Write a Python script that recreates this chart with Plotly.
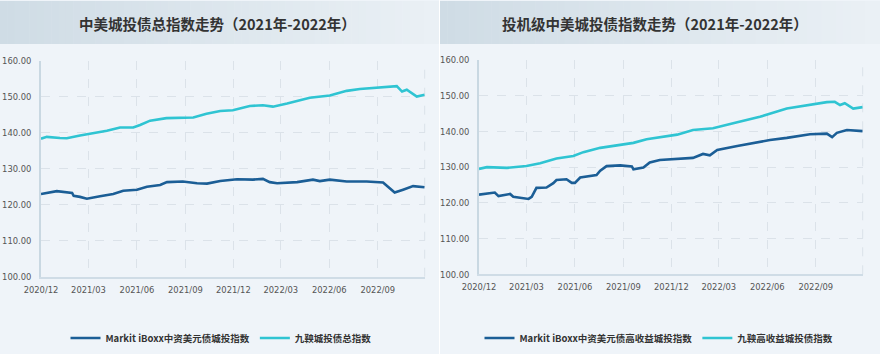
import plotly.graph_objects as go

# ---------------- data ----------------
left_dark_dates = ["2020-12-01", "2020-12-24", "2020-12-31", "2021-01-29", "2021-02-01", "2021-02-13",
                   "2021-02-26", "2021-03-23", "2021-04-17", "2021-05-06", "2021-06-01", "2021-06-20",
                   "2021-07-15", "2021-07-28", "2021-08-27", "2021-09-23", "2021-10-12", "2021-11-06",
                   "2021-12-08", "2022-01-07", "2022-01-26", "2022-02-08", "2022-02-22", "2022-04-01",
                   "2022-05-01", "2022-05-14", "2022-06-02", "2022-07-04", "2022-08-11", "2022-09-11",
                   "2022-09-20", "2022-10-03", "2022-10-19", "2022-11-07", "2022-11-29"]
left_dark_vals = [123.0, 123.5, 123.8, 123.3, 122.5, 122.2,
                  121.7, 122.4, 123.0, 123.9, 124.2, 125.0,
                  125.5, 126.3, 126.5, 126.0, 125.9, 126.6,
                  127.1, 127.0, 127.2, 126.3, 126.0, 126.3,
                  127.0, 126.6, 127.0, 126.5, 126.5, 126.2,
                  125.0, 123.4, 124.2, 125.2, 124.9]

left_cyan_dates = ["2020-12-01", "2020-12-12", "2021-01-06", "2021-01-19", "2021-02-13", "2021-03-10",
                   "2021-04-05", "2021-04-30", "2021-05-25", "2021-06-07", "2021-06-26", "2021-07-27",
                   "2021-08-28", "2021-09-16", "2021-10-11", "2021-11-06", "2021-11-30", "2022-01-01",
                   "2022-01-26", "2022-02-14", "2022-03-13", "2022-04-06", "2022-04-25", "2022-06-02",
                   "2022-07-04", "2022-07-29", "2022-08-23", "2022-09-18", "2022-10-07", "2022-10-17",
                   "2022-10-26", "2022-11-14", "2022-11-29"]
left_cyan_vals = [138.4, 138.9, 138.6, 138.5, 139.3, 139.9,
                  140.6, 141.5, 141.5, 142.2, 143.4, 144.1,
                  144.2, 144.3, 145.3, 146.1, 146.3, 147.5,
                  147.7, 147.3, 148.2, 149.0, 149.8, 150.4,
                  151.7, 152.2, 152.5, 152.9, 153.0, 151.5,
                  152.0, 150.1, 150.6]

right_dark_dates = ["2020-12-01", "2020-12-31", "2021-01-07", "2021-01-29", "2021-02-04", "2021-02-23",
                    "2021-03-05", "2021-03-11", "2021-03-20", "2021-04-08", "2021-04-21", "2021-04-27",
                    "2021-05-16", "2021-05-26", "2021-06-01", "2021-06-11", "2021-07-12", "2021-07-19",
                    "2021-07-31", "2021-08-26", "2021-09-17", "2021-09-20", "2021-10-09", "2021-10-21",
                    "2021-11-09", "2022-01-11", "2022-01-30", "2022-02-12", "2022-02-26", "2022-04-05",
                    "2022-05-05", "2022-06-06", "2022-07-08", "2022-07-27", "2022-08-21", "2022-09-22",
                    "2022-10-02", "2022-10-11", "2022-10-30", "2022-11-29"]
right_dark_vals = [122.3, 122.9, 121.9, 122.5, 121.7, 121.4,
                   121.1, 121.7, 124.2, 124.3, 125.5, 126.4,
                   126.6, 125.6, 125.6, 127.1, 127.8, 129.0,
                   130.3, 130.5, 130.2, 129.4, 129.9, 131.3,
                   132.0, 132.6, 133.7, 133.3, 134.8, 135.9,
                   136.8, 137.6, 138.2, 138.7, 139.2, 139.4,
                   138.4, 139.6, 140.4, 140.1]

right_cyan_dates = ["2020-12-01", "2020-12-16", "2021-01-23", "2021-03-01", "2021-03-27", "2021-04-27",
                    "2021-05-29", "2021-06-17", "2021-07-19", "2021-08-19", "2021-09-20", "2021-10-15",
                    "2021-11-09", "2021-12-12", "2022-01-11", "2022-02-18", "2022-04-05", "2022-05-18",
                    "2022-07-08", "2022-08-15", "2022-09-22", "2022-10-07", "2022-10-17", "2022-10-26",
                    "2022-11-11", "2022-11-29"]
right_cyan_vals = [129.5, 130.0, 129.8, 130.3, 131.1, 132.4,
                   133.1, 134.2, 135.4, 136.0, 136.8, 137.8,
                   138.3, 139.1, 140.4, 140.9, 142.6, 144.1,
                   146.4, 147.2, 148.2, 148.3, 147.4, 147.9,
                   146.4, 146.8]

titles = ["中美城投债总指数走势（2021年-2022年）", "投机级中美城投债指数走势（2021年-2022年）"]
left_names = ["Markit iBoxx中资美元债城投指数", "九鞅城投债总指数"]
right_names = ["Markit iBoxx中资美元债高收益城投指数", "九鞅高收益城投债指数"]
x_range = ["2020-12-01", "2022-11-29"]
y_range = [100, 160]

# ---------------- styling ----------------
W, H = 880, 354
DARK = "#1b5e96"
CYAN = "#2fc4d2"
PANEL_BG = "#eff4f9"
TICK_FONT = dict(family="Liberation Sans Narrow, DejaVu Sans Condensed, Roboto, sans-serif",
                 size=9.3, color="#555555")
CJK = "Noto Sans CJK SC, Noto Sans, sans-serif"


def px_x(p):
    return p / W


def px_y(p):
    return 1 - p / H


fig = go.Figure()

fig.add_trace(go.Scatter(x=left_dark_dates, y=left_dark_vals, mode="lines", name=left_names[0],
                         line=dict(color=DARK, width=2.6), xaxis="x", yaxis="y", legend="legend"))
fig.add_trace(go.Scatter(x=left_cyan_dates, y=left_cyan_vals, mode="lines", name=left_names[1],
                         line=dict(color=CYAN, width=2.6), xaxis="x", yaxis="y", legend="legend"))
fig.add_trace(go.Scatter(x=right_dark_dates, y=right_dark_vals, mode="lines", name=right_names[0],
                         line=dict(color=DARK, width=2.6), xaxis="x2", yaxis="y2", legend="legend2"))
fig.add_trace(go.Scatter(x=right_cyan_dates, y=right_cyan_vals, mode="lines", name=right_names[1],
                         line=dict(color=CYAN, width=2.6), xaxis="x2", yaxis="y2", legend="legend2"))

# panel geometry (pixels)
panels = [
    dict(x0=0, x1=439, ax_l=41, ax_r=424.7, ax_t=61, ax_b=276.7, title_cx=217, leg_cx=221),
    dict(x0=440, x1=880, ax_l=479, ax_r=862.7, ax_t=60, ax_b=274.3, title_cx=655, leg_cx=659),
]

xaxis_common = dict(type="date", range=x_range, tick0="2020-12-01", dtick="M3", tickformat="%Y/%m",
                    showgrid=True, gridcolor="#dbe2e9", griddash="dash", gridwidth=1,
                    showline=True, linecolor="#cfdce6", linewidth=2, ticks="", tickfont=TICK_FONT,
                    zeroline=False, fixedrange=True, automargin=False, ticklabelstandoff=3)
yaxis_common = dict(range=y_range, dtick=10, tickformat=".2f", showgrid=True, gridcolor="#dbe2e9",
                    griddash="dash", gridwidth=1, showline=True, linecolor="#c9d8e2", linewidth=1.5,
                    ticks="", tickfont=TICK_FONT, zeroline=False, ticklabelstandoff=6, fixedrange=True,
                    automargin=False)

shapes = []
annotations = []
for i, p in enumerate(panels):
    # panel background
    shapes.append(dict(type="rect", xref="paper", yref="paper", x0=px_x(p["x0"]), x1=px_x(p["x1"]),
                       y0=0, y1=1, fillcolor=PANEL_BG, line=dict(width=0), layer="below"))
    # title bar gradient made of thin strips
    n = 60
    c0 = (0xcf, 0xdc, 0xe5)
    c1 = (0xea, 0xf0, 0xf5)
    width = p["x1"] - p["x0"]
    for k in range(n):
        t = k / (n - 1)
        col = "rgb(%d,%d,%d)" % tuple(round(a + (b - a) * t) for a, b in zip(c0, c1))
        shapes.append(dict(type="rect", xref="paper", yref="paper",
                           x0=px_x(p["x0"] + width * k / n), x1=px_x(p["x0"] + width * (k + 1) / n + 0.5),
                           y0=px_y(44), y1=px_y(1), fillcolor=col, line=dict(width=0), layer="below"))
    # dashed right border of the plot area
    xr = "x" if i == 0 else "x2"
    yr = "y" if i == 0 else "y2"
    shapes.append(dict(type="line", xref=xr + " domain", yref=yr + " domain", x0=1, x1=1, y0=0, y1=1,
                       line=dict(color="#dbe2e9", width=1, dash="dash"), layer="below"))
    annotations.append(dict(text="<b>%s</b>" % titles[i], xref="paper", yref="paper",
                            x=px_x(p["title_cx"]), y=px_y(23), xanchor="center", yanchor="middle",
                            showarrow=False, font=dict(family=CJK, size=14.5, color="#333333")))

# white separator strip between panels
shapes.append(dict(type="rect", xref="paper", yref="paper", x0=px_x(439), x1=px_x(440), y0=0, y1=1,
                   fillcolor="white", line=dict(width=0), layer="below"))

legend_font = dict(family=CJK, size=9.5, color="#333333", weight="bold")
layout = dict(
    width=W, height=H, margin=dict(l=0, r=0, t=0, b=0, autoexpand=False),
    paper_bgcolor="white", plot_bgcolor="rgba(0,0,0,0)",
    xaxis=dict(xaxis_common, domain=[px_x(panels[0]["ax_l"]), px_x(panels[0]["ax_r"])], anchor="y"),
    yaxis=dict(yaxis_common, domain=[px_y(panels[0]["ax_b"]), px_y(panels[0]["ax_t"])], anchor="x"),
    xaxis2=dict(xaxis_common, domain=[px_x(panels[1]["ax_l"]), px_x(panels[1]["ax_r"])], anchor="y2"),
    yaxis2=dict(yaxis_common, domain=[px_y(panels[1]["ax_b"]), px_y(panels[1]["ax_t"])], anchor="x2"),
    legend=dict(orientation="h", x=px_x(panels[0]["leg_cx"]), y=px_y(338), xanchor="center",
                yanchor="middle", bgcolor="rgba(0,0,0,0)", font=legend_font, itemwidth=30),
    legend2=dict(orientation="h", x=px_x(panels[1]["leg_cx"]), y=px_y(338), xanchor="center",
                 yanchor="middle", bgcolor="rgba(0,0,0,0)", font=legend_font, itemwidth=30),
    shapes=shapes, annotations=annotations, showlegend=True,
)
fig.update_layout(layout)

fig.write_html("out.html")
